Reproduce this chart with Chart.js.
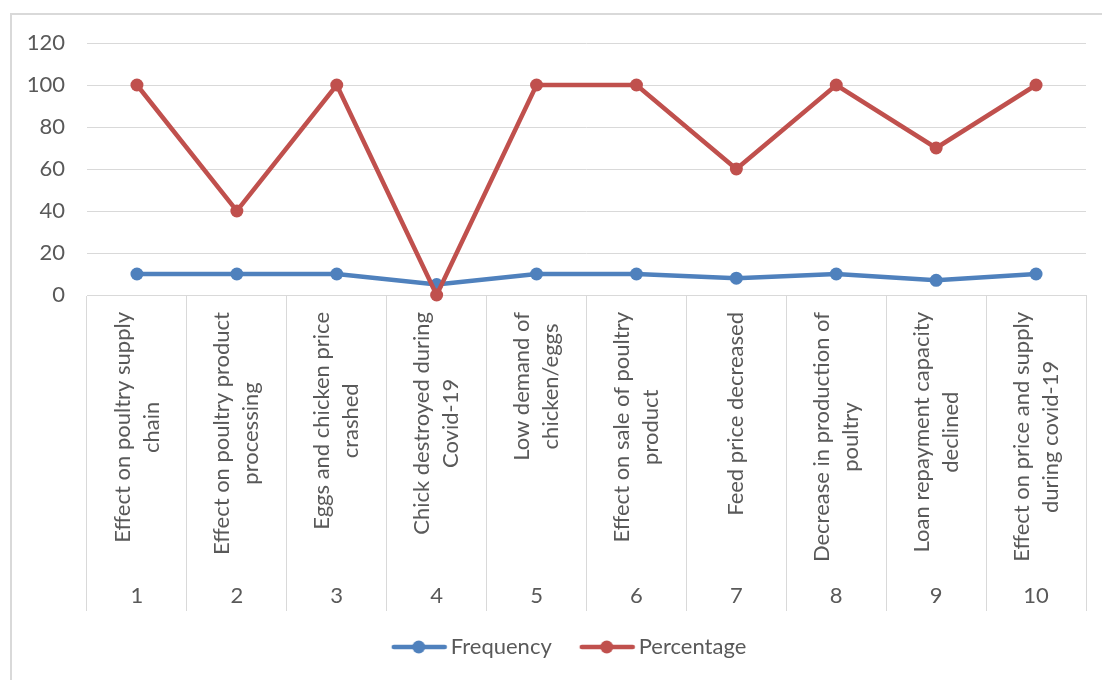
<!DOCTYPE html>
<html>
<head>
<meta charset="utf-8">
<script src="https://cdn.jsdelivr.net/npm/chart.js@4.4.1/dist/chart.umd.min.js"></script>
<style>
  html, body { margin: 0; padding: 0; background: #fff; overflow: hidden; }
  .wrap { position: relative; width: 1102px; height: 680px; overflow: hidden; }
  .frame {
    position: absolute; left: 10px; top: 13px; width: 1200px; height: 800px;
    border: 2px solid #d9d9d9; pointer-events: none;
  }
  canvas { position: absolute; left: 0; top: 0; }
</style>
</head>
<body>
<div class="wrap">
  <canvas id="chart" width="1102" height="700"></canvas>
  <div class="frame"></div>
</div>
<script>
  const numbers = ["1", "2", "3", "4", "5", "6", "7", "8", "9", "10"];
  const categories = [
    ["Effect on poultry supply", "chain"],
    ["Effect on poultry product", "processing"],
    ["Eggs and chicken price", "crashed"],
    ["Chick destroyed during", "Covid-19"],
    ["Low demand of", "chicken/eggs"],
    ["Effect on sale of poultry", "product"],
    ["Feed price decreased"],
    ["Decrease in production of", "poultry"],
    ["Loan repayment capacity", "declined"],
    ["Effect on price and supply", "during covid-19"]
  ];
  const frequency = [10, 10, 10, 5, 10, 10, 8, 10, 7, 10];
  const percentage = [100, 40, 100, 0, 100, 100, 60, 100, 70, 100];
  const yTicks = [0, 20, 40, 60, 80, 100, 120];

  const FONT = "Lato, 'Open Sans', sans-serif";
  const TEXT = "#595959";
  const GRID = "#d9d9d9";
  const BLUE = "#4f81bd";
  const RED = "#c0504d";

  // legend marker: line with a dot, drawn toward the right of its box
  function legendIcon(color) {
    const c = document.createElement("canvas");
    c.width = 76;
    c.height = 16;
    const g = c.getContext("2d");
    g.strokeStyle = color;
    g.lineWidth = 4.5;
    g.lineCap = "round";
    g.beginPath();
    g.moveTo(22, 8);
    g.lineTo(73, 8);
    g.stroke();
    g.fillStyle = color;
    g.beginPath();
    g.arc(47, 8, 6.5, 0, Math.PI * 2);
    g.fill();
    return c;
  }

  // two-level category axis: rotated names + numbers under them
  const categoryLabels = {
    id: "categoryLabels",
    afterLayout(chart) {
      chart.scales.y.left = 0;
    },
    afterDraw(chart) {
      const { ctx } = chart;
      const xs = chart.scales.x;
      const lineH = 29;
      ctx.save();
      ctx.fillStyle = TEXT;
      ctx.font = "22px " + FONT;
      categories.forEach((lines, i) => {
        const x = xs.getPixelForValue(i);
        const w = Math.max(...lines.map((l) => ctx.measureText(l).width));
        const top = xs.top + 17;
        ctx.save();
        ctx.translate(x, top + w / 2);
        ctx.rotate(-Math.PI / 2);
        ctx.textAlign = "center";
        ctx.textBaseline = "middle";
        lines.forEach((l, j) => {
          ctx.fillText(l, 0, (j - (lines.length - 1) / 2) * lineH);
        });
        ctx.restore();
        ctx.textAlign = "center";
        ctx.textBaseline = "middle";
        ctx.fillText(numbers[i], x, xs.top + 301);
      });
      ctx.restore();
    }
  };

  new Chart(document.getElementById("chart"), {
    type: "line",
    data: {
      labels: numbers,
      datasets: [
        {
          label: "Frequency",
          data: frequency,
          borderColor: BLUE,
          backgroundColor: BLUE,
          borderWidth: 4.5,
          pointRadius: 6.5,
          pointBorderWidth: 0,
          pointStyle: "circle",
          tension: 0,
          clip: false,
          order: 1
        },
        {
          label: "Percentage",
          data: percentage,
          borderColor: RED,
          backgroundColor: RED,
          borderWidth: 4.5,
          pointRadius: 6.5,
          pointBorderWidth: 0,
          pointStyle: "circle",
          tension: 0,
          clip: false,
          order: 0
        }
      ]
    },
    options: {
      responsive: false,
      animation: false,
      layout: { padding: { left: 40, right: 16, top: 43, bottom: 32 } },
      plugins: {
        tooltip: { enabled: false },
        legend: {
          position: "bottom",
          labels: {
            usePointStyle: true,
            pointStyleWidth: 60,
            padding: 16,
            color: TEXT,
            font: { family: FONT, size: 22 },
            sort: (a, b) => a.datasetIndex - b.datasetIndex,
            generateLabels(chart) {
              return chart.data.datasets.map((ds, i) => ({
                text: ds.label,
                datasetIndex: i,
                fillStyle: ds.borderColor,
                strokeStyle: ds.borderColor,
                lineWidth: 0,
                fontColor: TEXT,
                pointStyle: legendIcon(ds.borderColor),
                hidden: false
              }));
            }
          }
        }
      },
      scales: {
        x: {
          type: "category",
          offset: true,
          afterFit: (scale) => {
            scale.height = 325;
          },
          border: { display: true, color: GRID, width: 1 },
          grid: {
            offset: true,
            drawOnChartArea: false,
            drawTicks: true,
            tickLength: 316,
            color: GRID,
            lineWidth: 1
          },
          ticks: { display: false }
        },
        y: {
          min: 0,
          max: 120,
          afterBuildTicks: (scale) => {
            scale.ticks = yTicks.map((v) => ({ value: v }));
          },
          afterFit: (scale) => {
            scale.width = 47;
          },
          border: { display: false },
          grid: { color: GRID, lineWidth: 1, drawTicks: false },
          ticks: {
            color: TEXT,
            padding: 22,
            font: { family: FONT, size: 22 }
          }
        }
      }
    },
    plugins: [categoryLabels]
  });
</script>
</body>
</html>
